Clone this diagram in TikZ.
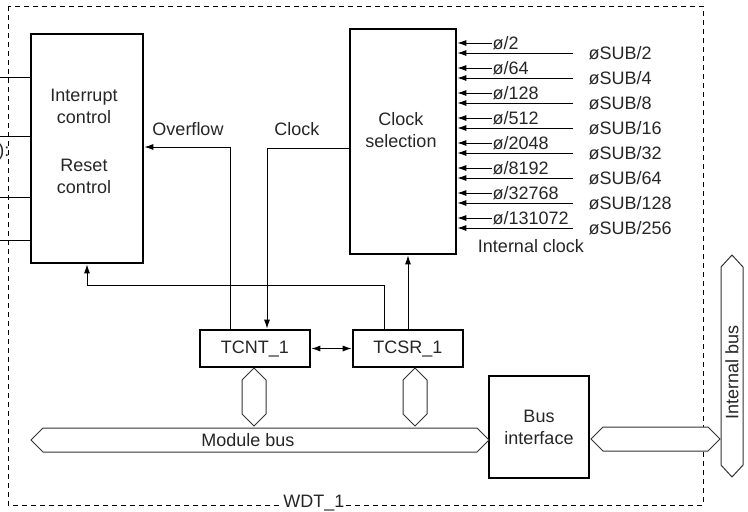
\documentclass[tikz,border=0pt]{standalone}
\usepackage{fontspec}
\setmainfont{Liberation Sans}
\usetikzlibrary{arrows.meta,calc}
\begin{document}
\begin{tikzpicture}[x=1pt,y=-1pt,
  every node/.style={font=\fontsize{18}{22}\selectfont, text=black!85},
  blk/.style={draw, line width=2.6pt, inner sep=0pt},
  wire/.style={line width=1pt},
  arr/.style={wire, -{Latex[length=9pt,width=6pt]}},
  darr/.style={wire, {Latex[length=9pt,width=6pt]}-{Latex[length=9pt,width=6pt]}},
  bus/.style={line width=1pt, fill=white, draw=black!80},
  lbl/.style={inner sep=0.5pt},
  txt/.style={align=center, inner sep=0pt}]
\useasboundingbox (0,0) rectangle (748,512);
% outer dashed frame
\draw[line width=1pt, dash pattern=on 5pt off 4pt] (8,6) rectangle (703,505);
\node[fill=white, inner sep=1.5pt] (wdt) at (314,503) {WDT\_1};
% blocks
\node[blk, minimum width=112pt, minimum height=229pt] (intr) at (87,148.5) {};
\node[txt] (intrt) at (84,106) {Interrupt\\control};
\node[txt] (rstt) at (84,176) {Reset\\control};
\node[blk, minimum width=106pt, minimum height=225pt] (clk) at (403,141.5) {};
\node[txt] (clkt) at (401,130) {Clock\\selection};
\node[blk, minimum width=110pt, minimum height=37pt] (tcnt) at (255,348.5) {TCNT\_1};
\node[blk, minimum width=110pt, minimum height=37pt] (tcsr) at (408,348.5) {TCSR\_1};
\node[blk, minimum width=100pt, minimum height=102pt, align=center] (busif) at (539,427) {Bus\\interface};
% left outside lines
\foreach \y/\n in {77/a,136/b,197/c,240/d}{
  \coordinate (L\n) at (0,\y);
  \draw[wire] (L\n) -- (intr.west |- L\n);
}
\node[anchor=east, inner sep=0pt] (cut) at (9.5,152) {e):};
% overflow
\coordinate (ovf) at (230,147);
\draw[arr] (tcnt.north -| ovf) |- (intr.east |- ovf);
\node (ovft) at (188,129) {Overflow};
% clock
\coordinate (clkc) at (267,148);
\draw[arr] (clk.west |- clkc) -| (tcnt.north -| clkc);
\node (clkl) at (297,129) {Clock};
% reset feedback
\coordinate (rst) at (384,285);
\coordinate (rstx) at (87,285);
\draw[arr] (tcsr.north -| rst) -- (rst) -| (intr.south -| rstx);
% tcsr to clock selection
\draw[arr] (tcsr.north) -- (clk.south -| tcsr.north);
% tcnt <-> tcsr
\draw[darr] (tcnt.east) -- (tcsr.west);
% clock inputs
\foreach \t [count=\i from 0] in {2,64,128,512,2048,8192,32768,131072}{
  \coordinate (p\i) at (492,43+25*\i);
  \draw[arr] (p\i) -- (clk.east |- p\i);
  \node[lbl, anchor=west] (pt\i) at (p\i) {ø/\t};
}
\foreach \t [count=\i from 0] in {2,4,8,16,32,64,128,256}{
  \coordinate (s\i) at (573,53+25*\i);
  \draw[arr] (s\i) -- (clk.east |- s\i);
  \node[lbl, anchor=west] (st\i) at (588,53+25*\i) {øSUB/\t};
}
\node (ick) at (531,246) {Internal clock};
% module bus
\draw[bus] (31,440) -- (43,428) -- (477,428) -- (489,440) -- (477,452) -- (43,452) -- cycle;
\node (mbus) at (248,440) {Module bus};
% small vertical buses
\draw[bus] (254,368) -- (266,380) -- (266,414) -- (254,426) -- (242,414) -- (242,380) -- cycle;
\draw[bus] (415,368) -- (427,380) -- (427,414) -- (415,426) -- (403,414) -- (403,380) -- cycle;
% bus to internal bus
\draw[bus] (591,439) -- (603,427) -- (708,427) -- (720,439) -- (708,451) -- (603,451) -- cycle;
\draw[bus] (732,255) -- (743,267) -- (743,465) -- (732,477) -- (721,465) -- (721,267) -- cycle;
\node[rotate=90] (ibus) at (732,372) {Internal bus};
\end{tikzpicture}
\end{document}
